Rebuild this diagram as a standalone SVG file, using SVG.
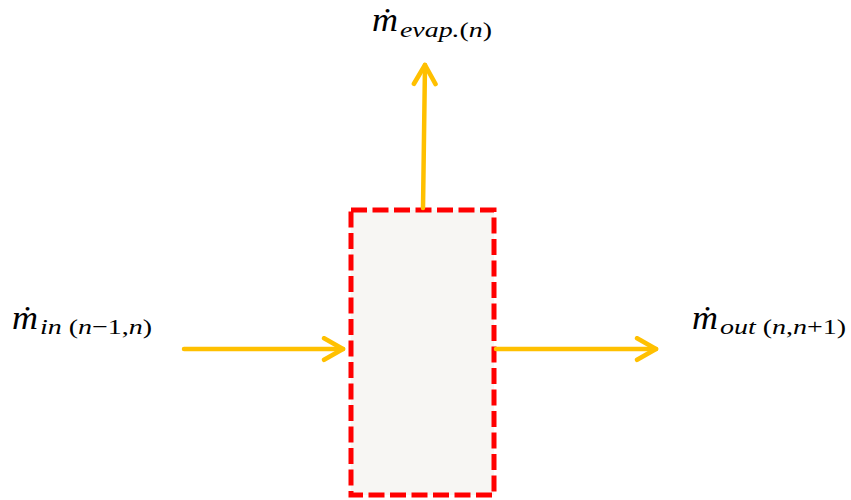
<svg xmlns="http://www.w3.org/2000/svg" width="851" height="500" viewBox="0 0 851 500">
<defs>
<style>
.arrow{stroke:#FFC000;stroke-width:4.5;fill:none;stroke-linecap:round;stroke-linejoin:round}
.m{font-family:"Liberation Serif","DejaVu Serif",serif;font-style:italic;font-size:33px;fill:#000}
.s{font-family:"Liberation Serif","DejaVu Serif",serif;font-style:italic;font-size:22px;fill:#000}
.u{font-style:normal}
</style>
<marker id="head" viewBox="0 0 10 10" refX="8.5" refY="5" markerWidth="6" markerHeight="6" orient="auto" markerUnits="strokeWidth">
<path d="M1.5,1 L8.5,5 L1.5,9" fill="none" stroke="#FFC000" stroke-width="1.7" stroke-linecap="round" stroke-linejoin="round"/>
</marker>
</defs>
<rect width="851" height="500" fill="#fff"/>
<g id="cell">
<rect x="351" y="210" width="143" height="285" fill="#F7F6F3" stroke="#FF0000" stroke-width="5" stroke-dasharray="16 5.5"/>
</g>
<g id="connectors">
<line class="arrow" x1="184" y1="349" x2="343" y2="349" marker-end="url(#head)"/>
<line class="arrow" x1="496" y1="349" x2="656" y2="349" marker-end="url(#head)"/>
<line class="arrow" x1="423" y1="208" x2="425" y2="65" marker-end="url(#head)"/>
</g>
<g id="label-evap">
<text class="m" x="372" y="31" textLength="26" lengthAdjust="spacingAndGlyphs">ṁ</text>
<text class="s" x="400" y="37" textLength="92" lengthAdjust="spacingAndGlyphs">evap.<tspan class="u">(</tspan>n<tspan class="u">)</tspan></text>
</g>
<g id="label-in">
<text class="m" x="12" y="329" textLength="26" lengthAdjust="spacingAndGlyphs">ṁ</text>
<text class="s" x="40" y="334" textLength="112" lengthAdjust="spacingAndGlyphs">in <tspan class="u">(</tspan>n<tspan class="u">−1,</tspan>n<tspan class="u">)</tspan></text>
</g>
<g id="label-out">
<text class="m" x="692" y="329" textLength="26" lengthAdjust="spacingAndGlyphs">ṁ</text>
<text class="s" x="720" y="334" textLength="126" lengthAdjust="spacingAndGlyphs">out <tspan class="u">(</tspan>n<tspan class="u">,</tspan>n<tspan class="u">+1)</tspan></text>
</g>
</svg>
